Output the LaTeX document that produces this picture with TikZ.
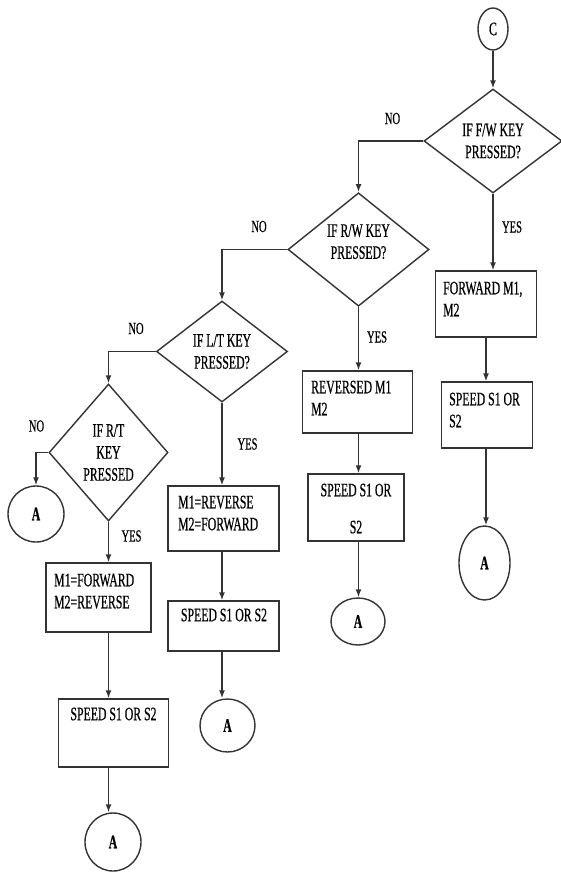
\documentclass[tikz,border=0pt]{standalone}
\usepackage{fontspec}
\setmainfont{Liberation Serif}[FakeStretch=0.62,FakeBold=0.6]
\usetikzlibrary{shapes.geometric,arrows.meta}
\begin{document}
\begin{tikzpicture}[x=1pt,y=-1pt,
  ln/.style={draw=black!80, line width=1.4pt},
  arr/.style={ln, -{Latex[length=8pt,width=6pt]}},
  dec/.style={diamond, ln, inner sep=0pt, align=center, font=\fontsize{19}{22}\selectfont},
  box/.style={rectangle, ln, inner sep=0pt},
  conn/.style={ellipse, ln, inner sep=0pt, font=\fontsize{19}{22}\selectfont},
  txt/.style={inner sep=0pt, align=left, font=\fontsize{19}{22}\selectfont},
  lbl/.style={inner sep=0pt, font=\fontsize{17}{20}\selectfont}]
\useasboundingbox (0,0) rectangle (561,873);
% connectors (circles)
\node[conn, minimum width=30pt, minimum height=42pt] (cc) at (493,29) {C};
\node[conn, minimum width=56pt, minimum height=56pt] (a0) at (36,514) {\bfseries A};
\node[conn, minimum width=56pt, minimum height=58pt] (a1) at (113,842) {\bfseries A};
\node[conn, minimum width=55pt, minimum height=53pt] (a2) at (227.5,725.5) {\bfseries A};
\node[conn, minimum width=54pt, minimum height=47pt] (a3) at (358,621.5) {\bfseries A};
\node[conn, minimum width=51pt, minimum height=74pt] (a4) at (484.5,563) {\bfseries A};
% decisions
\node[dec, minimum width=138pt, minimum height=104pt] (d1) at (493,141) {IF F/W KEY\\PRESSED?};
\node[dec, minimum width=141pt, minimum height=111pt] (d2) at (358.5,249.5) {IF R/W KEY\\PRESSED?\\[-6pt]\mbox{}};
\node[dec, minimum width=131pt, minimum height=101pt] (d3) at (222,351.5) {IF L/T KEY\\PRESSED?};
\node[dec, minimum width=119pt, minimum height=137pt] (d4) at (108.5,452.5) {IF R/T\\KEY\\PRESSED};
% boxes
\node[box, minimum width=101pt, minimum height=66pt] (b1a) at (486,304) {};
\node[box, minimum width=91pt, minimum height=66pt] (b1b) at (487,415) {};
\node[box, minimum width=110pt, minimum height=62pt] (b2a) at (357.5,402) {};
\node[box, minimum width=96pt, minimum height=67pt] (b2b) at (356,507.5) {};
\node[box, minimum width=111pt, minimum height=65pt] (b3a) at (223.5,518.5) {};
\node[box, minimum width=111pt, minimum height=50pt] (b3b) at (223.5,626) {};
\node[box, minimum width=105pt, minimum height=69pt] (b4a) at (98.5,597.5) {};
\node[box, minimum width=110pt, minimum height=68pt] (b4b) at (113.5,733) {};
% box texts
\node[txt, anchor=north west] (t1a) at (443,281.5) {FORWARD M1,\\M2};
\node[txt, anchor=north west] (t1b) at (449,392.5) {SPEED S1 OR\\S2};
\node[txt, anchor=north west] (t2a) at (311,380.5) {REVERSED M1\\M2};
\node[txt, anchor=north, align=center] (t2b) at (356,483.5) {SPEED S1 OR\\[15pt]S2};
\node[txt, anchor=north west] (t3a) at (178,495.5) {M1=REVERSE\\M2=FORWARD};
\node[txt] (t3b) at (224,615) {SPEED S1 OR S2};
\node[txt, anchor=north west] (t4a) at (54,573.5) {M1=FORWARD\\M2=REVERSE};
\node[txt] (t4b) at (113.5,714) {SPEED S1 OR S2};
% labels
\node[lbl] (n1) at (392.5,118.5) {NO};
\node[lbl] (y1) at (512,227) {YES};
\node[lbl] (n2) at (259,226.5) {NO};
\node[lbl] (y2) at (377,337) {YES};
\node[lbl] (n3) at (136,328.5) {NO};
\node[lbl] (y3) at (247.5,444) {YES};
\node[lbl] (n4) at (36.5,426) {NO};
\node[lbl] (y4) at (131.5,536) {YES};
% arrows
\draw[arr] (cc.south) -- (cc.south |- d1.north);
\draw[arr] (d1.west) -| (d2.north);
\draw[arr] (d2.west) -| (d3.north);
\draw[arr] (d3.west) -| (d4.north);
\draw[arr] (d4.west) -| (a0.north);
\draw[arr] (d4.south) -- (d4.south |- b4a.north);
\draw[arr] (d4.south |- b4a.south) -- (d4.south |- b4b.north);
\draw[arr] (d4.south |- b4b.south) -- (d4.south |- a1.north);
\draw[arr] (d3.south) -- (d3.south |- b3a.north);
\draw[arr] (d3.south |- b3a.south) -- (d3.south |- b3b.north);
\draw[arr] (d3.south |- b3b.south) -- (d3.south |- a2.north);
\draw[arr] (d2.south) -- (d2.south |- b2a.north);
\draw[arr] (d2.south |- b2a.south) -- (d2.south |- b2b.north);
\draw[arr] (d2.south |- b2b.south) -- (d2.south |- a3.north);
\draw[arr] (d1.south) -- (d1.south |- b1a.north);
\draw[arr] (b1a.south) -- (b1a.south |- b1b.north);
\draw[arr] (b1a.south |- b1b.south) -- (b1a.south |- a4.north);
\end{tikzpicture}
\end{document}
